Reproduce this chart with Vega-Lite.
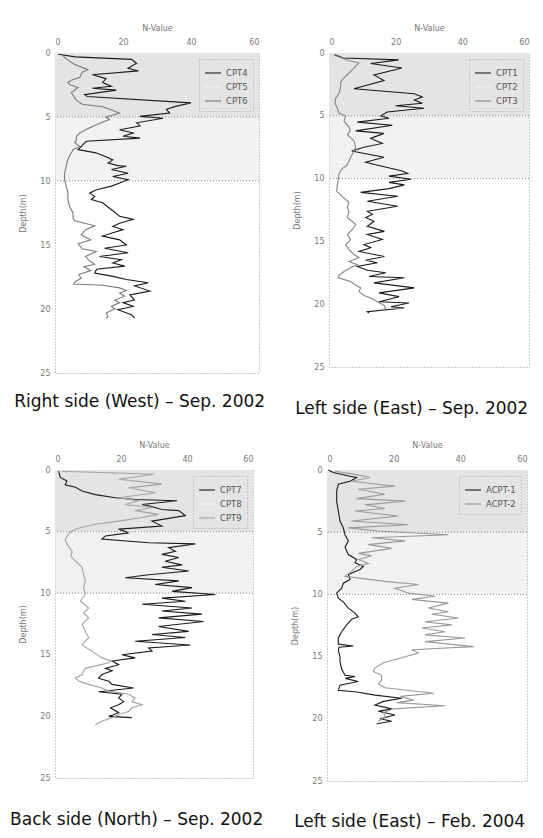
{
"$schema": "https://vega.github.io/schema/vega-lite/v6.json",
"background": "white",
"padding": {"left": 9, "top": 23, "right": 2, "bottom": 2},
"spacing": 22,
"config": {
 "view": {"stroke": "#999999", "strokeDash": [1, 2], "strokeWidth": 1},
 "axis": {"labelFont": "DejaVu Sans", "labelFontSize": 8, "labelColor": "#777777", "titleFont": "DejaVu Sans", "titleFontSize": 8, "titleColor": "#777777", "titleFontWeight": "normal", "ticks": false, "domain": false, "grid": false},
 "axisX": {"labelPadding": 7, "titlePadding": 6},
 "axisY": {"labelPadding": 5, "titlePadding": 12},
 "legend": {"symbolType": "stroke", "symbolSize": 256, "symbolStrokeWidth": 1.2, "labelFont": "DejaVu Sans", "labelFontSize": 8.5, "labelColor": "#555555", "padding": 5, "rowPadding": 0, "strokeColor": "#aaaaaa", "strokeDash": [1, 2], "offset": 6},
 "title": {"font": "DejaVu Sans", "fontSize": 17, "fontWeight": "normal", "color": "#111111", "orient": "bottom", "anchor": "middle", "frame": "bounds"},
 "line": {"strokeWidth": 1.1}
},
"resolve": {"scale": {"color": "independent"}, "legend": {"color": "independent"}},
"datasets": {
 "zones": [{"zone": "upper", "d1": 0, "d2": 5, "n1": 0, "n2": 60}, {"zone": "lower", "d1": 5, "d2": 10, "n1": 0, "n2": 60}],
 "p1": [
  {"s":"CPT4","d":0.1,"n":1},{"s":"CPT4","d":0.3,"n":6},{"s":"CPT4","d":0.5,"n":22.5},{"s":"CPT4","d":0.8,"n":24},{"s":"CPT4","d":1.2,"n":21.5},{"s":"CPT4","d":1.4,"n":24.5},{"s":"CPT4","d":1.7,"n":11},{"s":"CPT4","d":2.0,"n":15},{"s":"CPT4","d":2.3,"n":14},{"s":"CPT4","d":2.6,"n":16.6},{"s":"CPT4","d":2.75,"n":11},{"s":"CPT4","d":2.9,"n":18},{"s":"CPT4","d":3.25,"n":8.7},{"s":"CPT4","d":3.4,"n":9.5},{"s":"CPT4","d":3.9,"n":40},{"s":"CPT4","d":4.15,"n":35.7},{"s":"CPT4","d":4.4,"n":32.8},{"s":"CPT4","d":4.7,"n":33.7},{"s":"CPT4","d":4.95,"n":25},{"s":"CPT4","d":5.1,"n":31.8},{"s":"CPT4","d":5.45,"n":24},{"s":"CPT4","d":5.7,"n":25},{"s":"CPT4","d":6.0,"n":19},{"s":"CPT4","d":6.25,"n":23},{"s":"CPT4","d":6.5,"n":20},{"s":"CPT4","d":6.65,"n":25},{"s":"CPT4","d":6.9,"n":9.2},{"s":"CPT4","d":7.55,"n":6.8},{"s":"CPT4","d":7.8,"n":12},{"s":"CPT4","d":8.1,"n":15},{"s":"CPT4","d":8.35,"n":17},{"s":"CPT4","d":8.6,"n":15.6},{"s":"CPT4","d":8.8,"n":18.5},{"s":"CPT4","d":8.85,"n":21},{"s":"CPT4","d":9.1,"n":16.6},{"s":"CPT4","d":9.4,"n":21.5},{"s":"CPT4","d":9.65,"n":17},{"s":"CPT4","d":9.9,"n":21.5},{"s":"CPT4","d":10.15,"n":19},{"s":"CPT4","d":10.4,"n":16.6},{"s":"CPT4","d":10.7,"n":12},{"s":"CPT4","d":10.95,"n":10.2},{"s":"CPT4","d":11.2,"n":11.7},{"s":"CPT4","d":11.45,"n":10.7},{"s":"CPT4","d":11.7,"n":14},{"s":"CPT4","d":12.25,"n":16.6},{"s":"CPT4","d":12.75,"n":19},{"s":"CPT4","d":13.0,"n":23},{"s":"CPT4","d":13.3,"n":19},{"s":"CPT4","d":13.55,"n":17},{"s":"CPT4","d":13.8,"n":20},{"s":"CPT4","d":14.05,"n":17},{"s":"CPT4","d":14.3,"n":14},{"s":"CPT4","d":14.6,"n":19},{"s":"CPT4","d":15.0,"n":21},{"s":"CPT4","d":15.25,"n":14.6},{"s":"CPT4","d":15.6,"n":21.5},{"s":"CPT4","d":15.9,"n":13.1},{"s":"CPT4","d":16.15,"n":19.5},{"s":"CPT4","d":16.4,"n":17},{"s":"CPT4","d":16.65,"n":20.5},{"s":"CPT4","d":16.9,"n":12.2},{"s":"CPT4","d":17.2,"n":11.7},{"s":"CPT4","d":17.45,"n":17},{"s":"CPT4","d":17.7,"n":21},{"s":"CPT4","d":17.95,"n":27.4},{"s":"CPT4","d":18.2,"n":23.4},{"s":"CPT4","d":18.6,"n":27.9},{"s":"CPT4","d":18.9,"n":22},{"s":"CPT4","d":19.3,"n":23.4},{"s":"CPT4","d":19.5,"n":20},{"s":"CPT4","d":19.8,"n":23},{"s":"CPT4","d":20.05,"n":18.5},{"s":"CPT4","d":20.45,"n":22.5},{"s":"CPT4","d":20.7,"n":23.4},
  {"s":"CPT6","d":0.1,"n":1.9},{"s":"CPT6","d":0.5,"n":3.5},{"s":"CPT6","d":0.9,"n":5.8},{"s":"CPT6","d":1.3,"n":9.7},{"s":"CPT6","d":1.5,"n":8},{"s":"CPT6","d":1.9,"n":7.3},{"s":"CPT6","d":2.1,"n":5},{"s":"CPT6","d":2.3,"n":3.8},{"s":"CPT6","d":2.5,"n":4.5},{"s":"CPT6","d":2.7,"n":6.8},{"s":"CPT6","d":3.1,"n":4.8},{"s":"CPT6","d":3.4,"n":5.5},{"s":"CPT6","d":3.7,"n":6.3},{"s":"CPT6","d":4.0,"n":8},{"s":"CPT6","d":4.2,"n":14},{"s":"CPT6","d":4.5,"n":17},{"s":"CPT6","d":4.7,"n":19},{"s":"CPT6","d":5.0,"n":15},{"s":"CPT6","d":5.2,"n":16},{"s":"CPT6","d":5.5,"n":13},{"s":"CPT6","d":5.75,"n":11},{"s":"CPT6","d":6.0,"n":9},{"s":"CPT6","d":6.25,"n":7.3},{"s":"CPT6","d":6.5,"n":6.3},{"s":"CPT6","d":6.8,"n":6.3},{"s":"CPT6","d":7.0,"n":5.8},{"s":"CPT6","d":7.3,"n":7.3},{"s":"CPT6","d":7.55,"n":5.3},{"s":"CPT6","d":7.8,"n":4.8},{"s":"CPT6","d":8.3,"n":3.8},{"s":"CPT6","d":8.85,"n":3.3},{"s":"CPT6","d":9.4,"n":2.8},{"s":"CPT6","d":9.9,"n":2.8},{"s":"CPT6","d":10.4,"n":3.3},{"s":"CPT6","d":10.9,"n":3.8},{"s":"CPT6","d":11.5,"n":3.8},{"s":"CPT6","d":12.0,"n":4.3},{"s":"CPT6","d":12.5,"n":5.3},{"s":"CPT6","d":12.9,"n":5.3},{"s":"CPT6","d":13.1,"n":5.8},{"s":"CPT6","d":13.5,"n":11.7},{"s":"CPT6","d":13.8,"n":9},{"s":"CPT6","d":14.2,"n":7.7},{"s":"CPT6","d":14.6,"n":10.5},{"s":"CPT6","d":14.9,"n":6.8},{"s":"CPT6","d":15.3,"n":8},{"s":"CPT6","d":15.5,"n":12.1},{"s":"CPT6","d":15.9,"n":9},{"s":"CPT6","d":16.2,"n":10},{"s":"CPT6","d":16.5,"n":11.7},{"s":"CPT6","d":16.7,"n":8.5},{"s":"CPT6","d":17.0,"n":10.5},{"s":"CPT6","d":17.3,"n":7},{"s":"CPT6","d":17.6,"n":7.7},{"s":"CPT6","d":17.9,"n":5.8},{"s":"CPT6","d":18.05,"n":5.5},{"s":"CPT6","d":18.15,"n":14},{"s":"CPT6","d":18.35,"n":19},{"s":"CPT6","d":18.55,"n":21},{"s":"CPT6","d":18.75,"n":19},{"s":"CPT6","d":19.0,"n":20.5},{"s":"CPT6","d":19.3,"n":17.6},{"s":"CPT6","d":19.5,"n":19},{"s":"CPT6","d":19.8,"n":16.6},{"s":"CPT6","d":20.0,"n":17.6},{"s":"CPT6","d":20.3,"n":15.1},{"s":"CPT6","d":20.6,"n":15.6},{"s":"CPT6","d":20.7,"n":15}
 ],
 "p2": [
  {"s":"CPT1","d":0.15,"n":1.8},{"s":"CPT1","d":0.4,"n":4.3},{"s":"CPT1","d":0.55,"n":20.9},{"s":"CPT1","d":0.83,"n":12.5},{"s":"CPT1","d":1.2,"n":21.9},{"s":"CPT1","d":1.75,"n":13.5},{"s":"CPT1","d":2.2,"n":16.5},{"s":"CPT1","d":2.85,"n":7.5},{"s":"CPT1","d":3.25,"n":25.6},{"s":"CPT1","d":3.5,"n":28},{"s":"CPT1","d":3.75,"n":25.6},{"s":"CPT1","d":4.0,"n":28},{"s":"CPT1","d":4.2,"n":20},{"s":"CPT1","d":4.4,"n":28.5},{"s":"CPT1","d":4.7,"n":17.5},{"s":"CPT1","d":5.0,"n":15.5},{"s":"CPT1","d":5.2,"n":18},{"s":"CPT1","d":5.5,"n":8.5},{"s":"CPT1","d":5.75,"n":19},{"s":"CPT1","d":6.2,"n":8},{"s":"CPT1","d":6.4,"n":16.5},{"s":"CPT1","d":6.8,"n":12.5},{"s":"CPT1","d":7.2,"n":16},{"s":"CPT1","d":7.5,"n":10.5},{"s":"CPT1","d":7.8,"n":6.8},{"s":"CPT1","d":8.3,"n":16.5},{"s":"CPT1","d":8.7,"n":11},{"s":"CPT1","d":8.9,"n":14},{"s":"CPT1","d":9.4,"n":22},{"s":"CPT1","d":9.6,"n":23.6},{"s":"CPT1","d":9.8,"n":18},{"s":"CPT1","d":10.05,"n":24.6},{"s":"CPT1","d":10.3,"n":18},{"s":"CPT1","d":10.5,"n":22.6},{"s":"CPT1","d":10.8,"n":18},{"s":"CPT1","d":11.1,"n":9.5},{"s":"CPT1","d":11.4,"n":20.6},{"s":"CPT1","d":11.8,"n":11.5},{"s":"CPT1","d":12.2,"n":20.6},{"s":"CPT1","d":12.6,"n":11.5},{"s":"CPT1","d":12.85,"n":13},{"s":"CPT1","d":13.1,"n":11},{"s":"CPT1","d":13.4,"n":13.5},{"s":"CPT1","d":13.8,"n":11.5},{"s":"CPT1","d":14.2,"n":16.6},{"s":"CPT1","d":14.45,"n":11.5},{"s":"CPT1","d":14.85,"n":16},{"s":"CPT1","d":15.25,"n":10.5},{"s":"CPT1","d":15.5,"n":12.5},{"s":"CPT1","d":15.8,"n":9},{"s":"CPT1","d":16.2,"n":16.6},{"s":"CPT1","d":16.5,"n":11},{"s":"CPT1","d":16.7,"n":14.5},{"s":"CPT1","d":17.0,"n":8.5},{"s":"CPT1","d":17.3,"n":11.5},{"s":"CPT1","d":17.5,"n":17},{"s":"CPT1","d":17.8,"n":12},{"s":"CPT1","d":17.9,"n":22.6},{"s":"CPT1","d":18.3,"n":13.5},{"s":"CPT1","d":18.7,"n":25.6},{"s":"CPT1","d":19.1,"n":15},{"s":"CPT1","d":19.4,"n":21},{"s":"CPT1","d":19.8,"n":15},{"s":"CPT1","d":19.9,"n":24},{"s":"CPT1","d":20.2,"n":18.6},{"s":"CPT1","d":20.3,"n":22.6},{"s":"CPT1","d":20.6,"n":11.5},{"s":"CPT1","d":20.7,"n":12},
  {"s":"CPT3","d":0.15,"n":1.4},{"s":"CPT3","d":0.55,"n":5.4},{"s":"CPT3","d":0.8,"n":8.9},{"s":"CPT3","d":1.2,"n":7.5},{"s":"CPT3","d":1.85,"n":5},{"s":"CPT3","d":2.3,"n":3.5},{"s":"CPT3","d":2.7,"n":3.5},{"s":"CPT3","d":3.2,"n":3},{"s":"CPT3","d":3.6,"n":2},{"s":"CPT3","d":4.0,"n":1.8},{"s":"CPT3","d":4.4,"n":2.5},{"s":"CPT3","d":4.8,"n":3},{"s":"CPT3","d":5.0,"n":5},{"s":"CPT3","d":5.4,"n":4.5},{"s":"CPT3","d":5.9,"n":6},{"s":"CPT3","d":6.2,"n":6.4},{"s":"CPT3","d":6.5,"n":5.5},{"s":"CPT3","d":7.0,"n":7.5},{"s":"CPT3","d":7.5,"n":8},{"s":"CPT3","d":7.8,"n":7.5},{"s":"CPT3","d":8.3,"n":6.5},{"s":"CPT3","d":8.6,"n":6},{"s":"CPT3","d":8.9,"n":5.5},{"s":"CPT3","d":9.2,"n":4},{"s":"CPT3","d":9.6,"n":3},{"s":"CPT3","d":10.05,"n":2.8},{"s":"CPT3","d":10.5,"n":2.5},{"s":"CPT3","d":11.0,"n":2.3},{"s":"CPT3","d":11.5,"n":4.3},{"s":"CPT3","d":11.9,"n":6},{"s":"CPT3","d":12.3,"n":5.5},{"s":"CPT3","d":12.6,"n":6},{"s":"CPT3","d":13.1,"n":5.5},{"s":"CPT3","d":13.65,"n":8},{"s":"CPT3","d":14.05,"n":7},{"s":"CPT3","d":14.45,"n":5.5},{"s":"CPT3","d":14.85,"n":6.5},{"s":"CPT3","d":15.25,"n":5},{"s":"CPT3","d":15.65,"n":6},{"s":"CPT3","d":16.05,"n":7.5},{"s":"CPT3","d":16.3,"n":9},{"s":"CPT3","d":16.6,"n":6},{"s":"CPT3","d":16.85,"n":8.5},{"s":"CPT3","d":17.1,"n":6.5},{"s":"CPT3","d":17.4,"n":4.5},{"s":"CPT3","d":17.7,"n":3},{"s":"CPT3","d":17.9,"n":2.8},{"s":"CPT3","d":18.2,"n":6.5},{"s":"CPT3","d":18.5,"n":8},{"s":"CPT3","d":18.7,"n":9.5},{"s":"CPT3","d":19.0,"n":9},{"s":"CPT3","d":19.3,"n":10.5},{"s":"CPT3","d":19.5,"n":12.5},{"s":"CPT3","d":19.8,"n":14.5},{"s":"CPT3","d":20.1,"n":16.6},{"s":"CPT3","d":20.3,"n":17},{"s":"CPT3","d":20.5,"n":16}
 ],
 "p3": [
  {"s":"CPT7","d":0.1,"n":1.1},{"s":"CPT7","d":0.6,"n":1.6},{"s":"CPT7","d":0.9,"n":3.6},{"s":"CPT7","d":1.2,"n":3.1},{"s":"CPT7","d":1.4,"n":6.2},{"s":"CPT7","d":1.7,"n":8.2},{"s":"CPT7","d":2.0,"n":12.2},{"s":"CPT7","d":2.25,"n":18.3},{"s":"CPT7","d":2.4,"n":24.3},{"s":"CPT7","d":2.5,"n":37},{"s":"CPT7","d":2.8,"n":26.4},{"s":"CPT7","d":2.9,"n":28.4},{"s":"CPT7","d":3.2,"n":32.4},{"s":"CPT7","d":3.3,"n":37.5},{"s":"CPT7","d":3.7,"n":39.5},{"s":"CPT7","d":4.15,"n":29.4},{"s":"CPT7","d":4.55,"n":32.4},{"s":"CPT7","d":4.8,"n":19.3},{"s":"CPT7","d":5.1,"n":22.3},{"s":"CPT7","d":5.35,"n":15.3},{"s":"CPT7","d":5.6,"n":14.2},{"s":"CPT7","d":5.9,"n":28.4},{"s":"CPT7","d":6.0,"n":42.5},{"s":"CPT7","d":6.3,"n":34.4},{"s":"CPT7","d":6.6,"n":36.5},{"s":"CPT7","d":6.85,"n":32.4},{"s":"CPT7","d":7.1,"n":37.5},{"s":"CPT7","d":7.4,"n":33.4},{"s":"CPT7","d":7.7,"n":38.5},{"s":"CPT7","d":7.9,"n":32.4},{"s":"CPT7","d":8.2,"n":40.5},{"s":"CPT7","d":8.5,"n":28.4},{"s":"CPT7","d":8.75,"n":21.3},{"s":"CPT7","d":9.0,"n":37.5},{"s":"CPT7","d":9.3,"n":30.4},{"s":"CPT7","d":9.55,"n":41.5},{"s":"CPT7","d":9.85,"n":35.5},{"s":"CPT7","d":10.1,"n":48.6},{"s":"CPT7","d":10.4,"n":32.4},{"s":"CPT7","d":10.65,"n":39.5},{"s":"CPT7","d":10.9,"n":26.4},{"s":"CPT7","d":11.2,"n":41.5},{"s":"CPT7","d":11.45,"n":32.4},{"s":"CPT7","d":11.7,"n":44.5},{"s":"CPT7","d":12.0,"n":31.4},{"s":"CPT7","d":12.3,"n":45},{"s":"CPT7","d":12.7,"n":31.4},{"s":"CPT7","d":13.1,"n":40.5},{"s":"CPT7","d":13.35,"n":29.4},{"s":"CPT7","d":13.6,"n":39.5},{"s":"CPT7","d":13.9,"n":24.3},{"s":"CPT7","d":14.2,"n":41},{"s":"CPT7","d":14.45,"n":28.4},{"s":"CPT7","d":14.7,"n":29.4},{"s":"CPT7","d":15.0,"n":20.3},{"s":"CPT7","d":15.25,"n":24.3},{"s":"CPT7","d":15.5,"n":17.3},{"s":"CPT7","d":15.8,"n":19.3},{"s":"CPT7","d":16.1,"n":15.3},{"s":"CPT7","d":16.3,"n":17.3},{"s":"CPT7","d":16.6,"n":14.2},{"s":"CPT7","d":16.9,"n":13.2},{"s":"CPT7","d":17.15,"n":16.3},{"s":"CPT7","d":17.4,"n":17.3},{"s":"CPT7","d":17.7,"n":23.8},{"s":"CPT7","d":18.0,"n":13.2},{"s":"CPT7","d":18.2,"n":20.3},{"s":"CPT7","d":18.5,"n":19.3},{"s":"CPT7","d":18.8,"n":20.8},{"s":"CPT7","d":19.05,"n":19.3},{"s":"CPT7","d":19.3,"n":16.8},{"s":"CPT7","d":19.7,"n":19.3},{"s":"CPT7","d":20.0,"n":16.3},{"s":"CPT7","d":20.1,"n":23.3},
  {"s":"CPT9","d":0.1,"n":2},{"s":"CPT9","d":0.35,"n":30},{"s":"CPT9","d":0.75,"n":19.3},{"s":"CPT9","d":1.15,"n":32.4},{"s":"CPT9","d":1.45,"n":22.3},{"s":"CPT9","d":1.85,"n":30.4},{"s":"CPT9","d":2.25,"n":19.3},{"s":"CPT9","d":2.5,"n":25.4},{"s":"CPT9","d":2.8,"n":21.3},{"s":"CPT9","d":3.05,"n":29.4},{"s":"CPT9","d":3.3,"n":24.3},{"s":"CPT9","d":3.6,"n":31.4},{"s":"CPT9","d":3.9,"n":25.4},{"s":"CPT9","d":4.15,"n":19.3},{"s":"CPT9","d":4.4,"n":12.2},{"s":"CPT9","d":4.7,"n":7.2},{"s":"CPT9","d":4.95,"n":5.2},{"s":"CPT9","d":5.2,"n":4.1},{"s":"CPT9","d":5.65,"n":3.1},{"s":"CPT9","d":6.0,"n":3.6},{"s":"CPT9","d":6.6,"n":5.2},{"s":"CPT9","d":7.0,"n":4.8},{"s":"CPT9","d":7.4,"n":6.2},{"s":"CPT9","d":7.9,"n":8.2},{"s":"CPT9","d":8.5,"n":8.7},{"s":"CPT9","d":9.0,"n":9.2},{"s":"CPT9","d":9.5,"n":8.7},{"s":"CPT9","d":10.1,"n":9.2},{"s":"CPT9","d":10.65,"n":7.7},{"s":"CPT9","d":11.2,"n":10.2},{"s":"CPT9","d":11.6,"n":8.7},{"s":"CPT9","d":12.0,"n":10.2},{"s":"CPT9","d":12.55,"n":8.2},{"s":"CPT9","d":13.1,"n":9.2},{"s":"CPT9","d":13.6,"n":10.2},{"s":"CPT9","d":14.2,"n":8.2},{"s":"CPT9","d":14.7,"n":11.2},{"s":"CPT9","d":15.25,"n":14.2},{"s":"CPT9","d":15.5,"n":17},{"s":"CPT9","d":15.65,"n":16.3},{"s":"CPT9","d":16.1,"n":9.2},{"s":"CPT9","d":16.6,"n":8.2},{"s":"CPT9","d":16.9,"n":6.2},{"s":"CPT9","d":17.15,"n":7.2},{"s":"CPT9","d":17.4,"n":10.2},{"s":"CPT9","d":17.7,"n":14.2},{"s":"CPT9","d":17.95,"n":16.3},{"s":"CPT9","d":18.2,"n":22.3},{"s":"CPT9","d":18.5,"n":24.3},{"s":"CPT9","d":18.8,"n":23.3},{"s":"CPT9","d":19.05,"n":26.4},{"s":"CPT9","d":19.3,"n":23.3},{"s":"CPT9","d":19.6,"n":22.3},{"s":"CPT9","d":19.85,"n":19.3},{"s":"CPT9","d":20.1,"n":17.3},{"s":"CPT9","d":20.4,"n":14.2},{"s":"CPT9","d":20.7,"n":12.2}
 ],
 "p4": [
  {"s":"ACPT-1","d":0,"n":0.4},{"s":"ACPT-1","d":0.2,"n":1.9},{"s":"ACPT-1","d":0.5,"n":6.9},{"s":"ACPT-1","d":0.6,"n":8.9},{"s":"ACPT-1","d":0.9,"n":6.9},{"s":"ACPT-1","d":1.15,"n":3.4},{"s":"ACPT-1","d":1.7,"n":2.9},{"s":"ACPT-1","d":2.5,"n":2.9},{"s":"ACPT-1","d":3.3,"n":3.4},{"s":"ACPT-1","d":4.1,"n":3.9},{"s":"ACPT-1","d":4.65,"n":4.9},{"s":"ACPT-1","d":5.2,"n":5.4},{"s":"ACPT-1","d":5.7,"n":6.4},{"s":"ACPT-1","d":6.2,"n":5.4},{"s":"ACPT-1","d":6.8,"n":6.4},{"s":"ACPT-1","d":7.2,"n":8.9},{"s":"ACPT-1","d":7.45,"n":8.4},{"s":"ACPT-1","d":7.75,"n":10.9},{"s":"ACPT-1","d":8.0,"n":9.9},{"s":"ACPT-1","d":8.4,"n":6.4},{"s":"ACPT-1","d":8.8,"n":6.9},{"s":"ACPT-1","d":9.1,"n":4.9},{"s":"ACPT-1","d":9.5,"n":4.4},{"s":"ACPT-1","d":9.9,"n":2.9},{"s":"ACPT-1","d":10.3,"n":3.4},{"s":"ACPT-1","d":10.6,"n":4.9},{"s":"ACPT-1","d":11.1,"n":6.4},{"s":"ACPT-1","d":11.5,"n":8.4},{"s":"ACPT-1","d":11.8,"n":9.4},{"s":"ACPT-1","d":12.0,"n":7.4},{"s":"ACPT-1","d":12.45,"n":5.9},{"s":"ACPT-1","d":13.0,"n":4.4},{"s":"ACPT-1","d":13.5,"n":3.4},{"s":"ACPT-1","d":14.0,"n":3.4},{"s":"ACPT-1","d":14.15,"n":7.9},{"s":"ACPT-1","d":14.25,"n":3.6},{"s":"ACPT-1","d":14.5,"n":3.4},{"s":"ACPT-1","d":15.0,"n":3.9},{"s":"ACPT-1","d":15.4,"n":3.9},{"s":"ACPT-1","d":16.0,"n":4.4},{"s":"ACPT-1","d":16.5,"n":5.4},{"s":"ACPT-1","d":16.6,"n":8.4},{"s":"ACPT-1","d":16.75,"n":5.5},{"s":"ACPT-1","d":17.0,"n":9.3},{"s":"ACPT-1","d":17.3,"n":3.9},{"s":"ACPT-1","d":17.7,"n":3.4},{"s":"ACPT-1","d":17.85,"n":9},{"s":"ACPT-1","d":18.1,"n":14.4},{"s":"ACPT-1","d":18.35,"n":22.4},{"s":"ACPT-1","d":18.6,"n":16.9},{"s":"ACPT-1","d":18.9,"n":14.4},{"s":"ACPT-1","d":19.2,"n":19.4},{"s":"ACPT-1","d":19.4,"n":15.4},{"s":"ACPT-1","d":19.7,"n":20.4},{"s":"ACPT-1","d":20.0,"n":15.9},{"s":"ACPT-1","d":20.2,"n":19.4},{"s":"ACPT-1","d":20.4,"n":14.9},
  {"s":"ACPT-2","d":0.1,"n":2.4},{"s":"ACPT-2","d":0.35,"n":8.4},{"s":"ACPT-2","d":0.6,"n":12.9},{"s":"ACPT-2","d":0.9,"n":7.4},{"s":"ACPT-2","d":1.3,"n":20.4},{"s":"ACPT-2","d":1.55,"n":9.4},{"s":"ACPT-2","d":1.95,"n":17.4},{"s":"ACPT-2","d":2.3,"n":8.9},{"s":"ACPT-2","d":2.5,"n":23.4},{"s":"ACPT-2","d":2.8,"n":11.4},{"s":"ACPT-2","d":3.1,"n":17.4},{"s":"ACPT-2","d":3.3,"n":8.4},{"s":"ACPT-2","d":3.7,"n":21.4},{"s":"ACPT-2","d":4.1,"n":7.4},{"s":"ACPT-2","d":4.4,"n":24.4},{"s":"ACPT-2","d":4.65,"n":6.4},{"s":"ACPT-2","d":4.9,"n":15.4},{"s":"ACPT-2","d":5.2,"n":36.4},{"s":"ACPT-2","d":5.45,"n":13.4},{"s":"ACPT-2","d":5.7,"n":23.4},{"s":"ACPT-2","d":6.0,"n":12.4},{"s":"ACPT-2","d":6.3,"n":19.4},{"s":"ACPT-2","d":6.7,"n":9.4},{"s":"ACPT-2","d":6.9,"n":13.4},{"s":"ACPT-2","d":7.2,"n":9.4},{"s":"ACPT-2","d":7.5,"n":12.4},{"s":"ACPT-2","d":7.75,"n":8.9},{"s":"ACPT-2","d":8.15,"n":7.4},{"s":"ACPT-2","d":8.55,"n":5.4},{"s":"ACPT-2","d":8.95,"n":17.4},{"s":"ACPT-2","d":9.2,"n":27.4},{"s":"ACPT-2","d":9.5,"n":20.4},{"s":"ACPT-2","d":9.9,"n":24.4},{"s":"ACPT-2","d":10.15,"n":32.4},{"s":"ACPT-2","d":10.4,"n":25.4},{"s":"ACPT-2","d":10.7,"n":36.4},{"s":"ACPT-2","d":11.1,"n":30.4},{"s":"ACPT-2","d":11.4,"n":36.4},{"s":"ACPT-2","d":11.6,"n":31.4},{"s":"ACPT-2","d":11.9,"n":39.4},{"s":"ACPT-2","d":12.2,"n":29.4},{"s":"ACPT-2","d":12.45,"n":37.4},{"s":"ACPT-2","d":12.7,"n":28.4},{"s":"ACPT-2","d":13.0,"n":35.4},{"s":"ACPT-2","d":13.25,"n":29.4},{"s":"ACPT-2","d":13.5,"n":41.4},{"s":"ACPT-2","d":13.8,"n":29.4},{"s":"ACPT-2","d":14.2,"n":44},{"s":"ACPT-2","d":14.45,"n":25.4},{"s":"ACPT-2","d":14.7,"n":27.4},{"s":"ACPT-2","d":15.1,"n":22.4},{"s":"ACPT-2","d":15.5,"n":16.9},{"s":"ACPT-2","d":15.9,"n":14.4},{"s":"ACPT-2","d":16.2,"n":13.9},{"s":"ACPT-2","d":16.5,"n":16.4},{"s":"ACPT-2","d":16.9,"n":16.4},{"s":"ACPT-2","d":17.2,"n":15.4},{"s":"ACPT-2","d":17.5,"n":17.4},{"s":"ACPT-2","d":17.95,"n":32},{"s":"ACPT-2","d":18.2,"n":22},{"s":"ACPT-2","d":18.5,"n":26},{"s":"ACPT-2","d":18.7,"n":21},{"s":"ACPT-2","d":18.95,"n":35.4},{"s":"ACPT-2","d":19.2,"n":20},{"s":"ACPT-2","d":19.5,"n":17},{"s":"ACPT-2","d":19.85,"n":17.4},{"s":"ACPT-2","d":20.2,"n":15.4}
 ]
},
"vconcat": [
 {"spacing": 27, "resolve": {"scale": {"color": "independent"}, "legend": {"color": "independent"}}, "hconcat": [
  {"width": 204, "height": 320, "title": {"text": "Right side (West) – Sep. 2002", "offset": 17},
   "layer": [
    {"data": {"name": "zones"}, "mark": {"type": "rect", "fill": "#e4e4e4"}, "encoding": {
      "x": {"field": "n1", "type": "quantitative", "scale": {"domain": [0, 60], "nice": false, "zero": false}, "title": "N-Value", "axis": {"orient": "top", "values": [0, 10, 20, 30, 40, 50, 60]}},
      "x2": {"field": "n2"},
      "y": {"field": "d1", "type": "quantitative", "scale": {"domain": [0, 25], "reverse": true, "nice": false, "zero": false}, "title": "Depth(m)", "axis": {"values": [0, 5, 10, 15, 20, 25]}},
      "y2": {"field": "d2"},
      "opacity": {"field": "zone", "type": "nominal", "scale": {"domain": ["upper", "lower"], "range": [1, 0.5]}, "legend": null}}},
    {"data": {"name": "zones"}, "mark": {"type": "rule", "stroke": "#8c8c8c", "strokeDash": [1, 2], "strokeWidth": 1}, "encoding": {
      "y": {"field": "d2", "type": "quantitative", "title": "Depth(m)"}}},
    {"data": {"name": "p1"}, "mark": {"type": "line"}, "encoding": {
      "x": {"field": "n", "type": "quantitative", "title": "N-Value"},
      "y": {"field": "d", "type": "quantitative", "title": "Depth(m)"},
      "order": {"field": "d", "type": "quantitative"},
      "color": {"field": "s", "type": "nominal", "scale": {"domain": ["CPT4", "CPT5", "CPT6"], "range": ["#1a1a1a", "#f2f2f2", "#7a7a7a"]}, "legend": {"orient": "top-right", "title": null}}}}
   ]},
  {"width": 200, "height": 314, "title": {"text": "Left side (East) – Sep. 2002", "offset": 30},
   "layer": [
    {"data": {"name": "zones"}, "mark": {"type": "rect", "fill": "#e4e4e4"}, "encoding": {
      "x": {"field": "n1", "type": "quantitative", "scale": {"domain": [0, 60], "nice": false, "zero": false}, "title": "N-Value", "axis": {"orient": "top", "values": [0, 10, 20, 30, 40, 50, 60]}},
      "x2": {"field": "n2"},
      "y": {"field": "d1", "type": "quantitative", "scale": {"domain": [0, 25], "reverse": true, "nice": false, "zero": false}, "title": "Depth(m)", "axis": {"values": [0, 5, 10, 15, 20, 25]}},
      "y2": {"field": "d2"},
      "opacity": {"field": "zone", "type": "nominal", "scale": {"domain": ["upper", "lower"], "range": [1, 0.5]}, "legend": null}}},
    {"data": {"name": "zones"}, "mark": {"type": "rule", "stroke": "#8c8c8c", "strokeDash": [1, 2], "strokeWidth": 1}, "encoding": {
      "y": {"field": "d2", "type": "quantitative", "title": "Depth(m)"}}},
    {"data": {"name": "p2"}, "mark": {"type": "line"}, "encoding": {
      "x": {"field": "n", "type": "quantitative", "title": "N-Value"},
      "y": {"field": "d", "type": "quantitative", "title": "Depth(m)"},
      "order": {"field": "d", "type": "quantitative"},
      "color": {"field": "s", "type": "nominal", "scale": {"domain": ["CPT1", "CPT2", "CPT3"], "range": ["#1a1a1a", "#f2f2f2", "#858585"]}, "legend": {"orient": "top-right", "title": null}}}}
   ]}
 ]},
 {"spacing": 27, "resolve": {"scale": {"color": "independent"}, "legend": {"color": "independent"}}, "hconcat": [
  {"width": 198, "height": 308, "title": {"text": "Back side (North) – Sep. 2002", "offset": 30},
   "layer": [
    {"data": {"name": "zones"}, "mark": {"type": "rect", "fill": "#e4e4e4"}, "encoding": {
      "x": {"field": "n1", "type": "quantitative", "scale": {"domain": [0, 60], "nice": false, "zero": false}, "title": "N-Value", "axis": {"orient": "top", "values": [0, 10, 20, 30, 40, 50, 60]}},
      "x2": {"field": "n2"},
      "y": {"field": "d1", "type": "quantitative", "scale": {"domain": [0, 25], "reverse": true, "nice": false, "zero": false}, "title": "Depth(m)", "axis": {"values": [0, 5, 10, 15, 20, 25]}},
      "y2": {"field": "d2"},
      "opacity": {"field": "zone", "type": "nominal", "scale": {"domain": ["upper", "lower"], "range": [1, 0.5]}, "legend": null}}},
    {"data": {"name": "zones"}, "mark": {"type": "rule", "stroke": "#8c8c8c", "strokeDash": [1, 2], "strokeWidth": 1}, "encoding": {
      "y": {"field": "d2", "type": "quantitative", "title": "Depth(m)"}}},
    {"data": {"name": "p3"}, "mark": {"type": "line"}, "encoding": {
      "x": {"field": "n", "type": "quantitative", "title": "N-Value"},
      "y": {"field": "d", "type": "quantitative", "title": "Depth(m)"},
      "order": {"field": "d", "type": "quantitative"},
      "color": {"field": "s", "type": "nominal", "scale": {"domain": ["CPT7", "CPT8", "CPT9"], "range": ["#1a1a1a", "#f2f2f2", "#a3a3a3"]}, "legend": {"orient": "top-right", "title": null}}}}
   ]},
  {"width": 200, "height": 311, "title": {"text": "Left side (East) – Feb. 2004", "offset": 29},
   "layer": [
    {"data": {"name": "zones"}, "mark": {"type": "rect", "fill": "#e4e4e4"}, "encoding": {
      "x": {"field": "n1", "type": "quantitative", "scale": {"domain": [0, 60], "nice": false, "zero": false}, "title": "N-Value", "axis": {"orient": "top", "values": [0, 10, 20, 30, 40, 50, 60]}},
      "x2": {"field": "n2"},
      "y": {"field": "d1", "type": "quantitative", "scale": {"domain": [0, 25], "reverse": true, "nice": false, "zero": false}, "title": "Depth(m)", "axis": {"values": [0, 5, 10, 15, 20, 25]}},
      "y2": {"field": "d2"},
      "opacity": {"field": "zone", "type": "nominal", "scale": {"domain": ["upper", "lower"], "range": [1, 0.5]}, "legend": null}}},
    {"data": {"name": "zones"}, "mark": {"type": "rule", "stroke": "#8c8c8c", "strokeDash": [1, 2], "strokeWidth": 1}, "encoding": {
      "y": {"field": "d2", "type": "quantitative", "title": "Depth(m)"}}},
    {"data": {"name": "p4"}, "mark": {"type": "line"}, "encoding": {
      "x": {"field": "n", "type": "quantitative", "title": "N-Value"},
      "y": {"field": "d", "type": "quantitative", "title": "Depth(m)"},
      "order": {"field": "d", "type": "quantitative"},
      "color": {"field": "s", "type": "nominal", "scale": {"domain": ["ACPT-1", "ACPT-2"], "range": ["#1a1a1a", "#999999"]}, "legend": {"orient": "top-right", "title": null}}}}
   ]}
 ]}
]
}
